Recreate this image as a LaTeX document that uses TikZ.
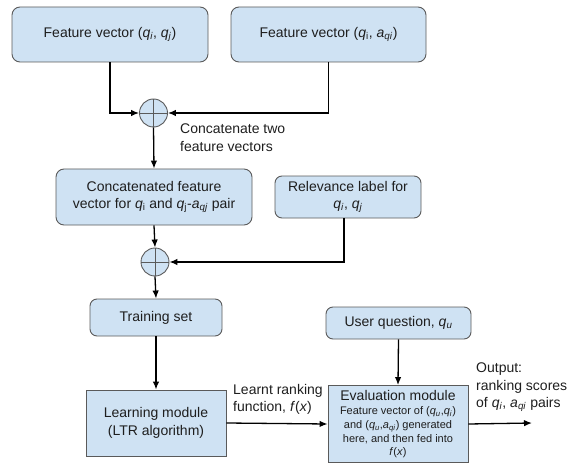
\documentclass[tikz,border=0pt]{standalone}
\usepackage{fontspec}
\setmainfont{Liberation Sans}
\usetikzlibrary{arrows.meta}
\tikzset{>={Latex[length=8pt,width=6.5pt]}}
\definecolor{boxfill}{HTML}{CFE2F3}
\definecolor{boxline}{HTML}{5A5A5A}
\definecolor{boxtext}{HTML}{1E1E1E}
\newcommand{\iv}[1]{\textit{#1}}
\newcommand{\headsize}{\fontsize{14}{17.5}\selectfont}
\tikzstyle{block}=[draw=boxline,fill=boxfill,line width=0.9pt,align=center,inner sep=0pt,text=boxtext,font=\fontsize{14}{17.5}\selectfont]
\tikzstyle{rblock}=[block,rounded corners=8pt]
\tikzstyle{joint}=[circle,draw=boxline,fill=boxfill,line width=0.9pt,minimum size=28pt,inner sep=0pt,
  path picture={\draw[boxline,line width=0.9pt] (path picture bounding box.north) -- (path picture bounding box.south)
    (path picture bounding box.west) -- (path picture bounding box.east);}]
\tikzstyle{flow}=[->,line width=1.3pt]
\tikzstyle{note}=[align=left,inner sep=0pt,anchor=west,text=boxtext,font=\fontsize{14}{17.5}\selectfont]

\begin{document}
\begin{tikzpicture}[x=1pt,y=-1pt]
  \useasboundingbox (0,0) rectangle (581,476);
  % inputs
  \node[rblock,minimum width=196pt,minimum height=55pt] (fvqq) at (110,34.5)
    {Feature vector (\iv{q}\textsubscript{\iv{i}}, \iv{q}\textsubscript{\iv{j}})};
  \node[rblock,minimum width=195pt,minimum height=55pt] (fvqa) at (328.5,34.5)
    {Feature vector (\iv{q}\textsubscript{i}, \iv{a}\textsubscript{\iv{qi}})};
  \node[joint] (plusA) at (153.5,113) {};
  \node[note] (concnote) at (180,137.5) {Concatenate two\\feature vectors};
  \node[rblock,minimum width=196pt,minimum height=56pt] (concat) at (154,197)
    {Concatenated feature\\vector for \iv{q}\textsubscript{i} and \iv{q}\textsubscript{j}-\iv{a}\textsubscript{\iv{qj}} pair};
  \node[rblock,rounded corners=7pt,minimum width=146pt,minimum height=42pt] (relev) at (348,197)
    {Relevance label for\\\iv{q}\textsubscript{\iv{i}}, \iv{q}\textsubscript{\iv{j}}};
  \node[joint] (plusB) at (155,262) {};
  % training and evaluation
  \node[rblock,rounded corners=7pt,minimum width=132pt,minimum height=37pt] (train) at (156,317.5) {Training set};
  \node[block,minimum width=140pt,minimum height=66pt] (learn) at (156,423) {Learning module\\(LTR algorithm)};
  \node[rblock,rounded corners=7pt,minimum width=145pt,minimum height=32pt] (user) at (398.5,323)
    {User question, \iv{q}\textsubscript{\iv{u}}};
  \node[block,font=\fontsize{11}{13.6}\selectfont,minimum width=140pt,minimum height=77pt] (eval) at (398,424)
    {{\headsize Evaluation module}\\[1pt]
     Feature vector of (\iv{q}\textsubscript{\iv{u}},\iv{q}\textsubscript{\iv{i}})\\
     and (\iv{q}\textsubscript{\iv{u}},\iv{a}\textsubscript{\iv{qi}}) generated\\
     here, and then fed into\\
     \iv{f}(\iv{x})};
  \node[note] (fnote) at (233,399.5) {Learnt ranking\\function, \iv{f}(\iv{x})};
  \node[note] (outnote) at (476,387.5) {Output:\\ranking scores\\of \iv{q}\textsubscript{\iv{i}}, \iv{a}\textsubscript{\iv{qi}} pairs};
  \coordinate (out) at (532,423);
  % connectors
  \draw[flow] (fvqq.south) |- (plusA.west);
  \draw[flow] (fvqa.south) |- (plusA.east);
  \draw[flow] (plusA.south) -- (concat.north);
  \draw[flow] (concat.south) -- (plusB.north);
  \draw[flow] ([xshift=-4pt]relev.south) |- (plusB.east);
  \draw[flow] (plusB.south) -- (train.north);
  \draw[flow] (train.south) -- (learn.north);
  \draw[flow] (user.south) -- (eval.north);
  \draw[flow] (learn.east) -- (eval.west);
  \draw[flow] (eval.east) -- (out);
\end{tikzpicture}
\end{document}
